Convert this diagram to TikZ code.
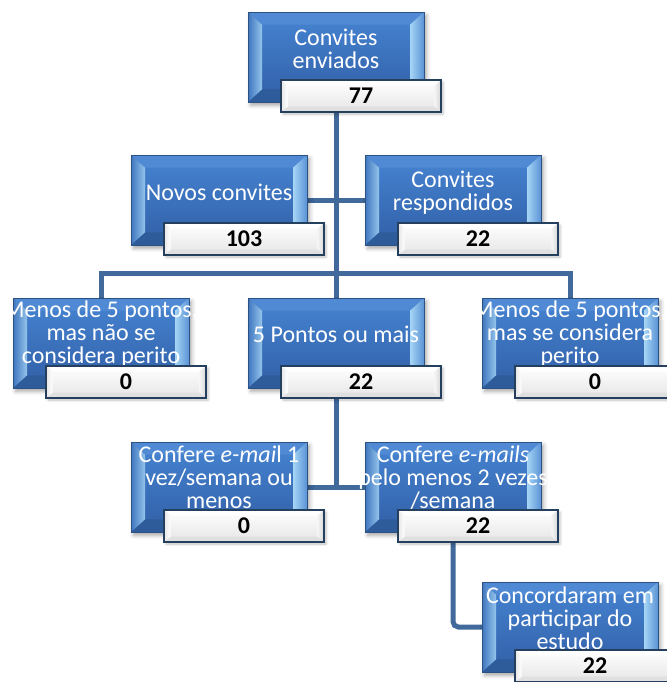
\documentclass[tikz,border=0pt]{standalone}
\usepackage{fontspec}
\setmainfont{Carlito}
\usetikzlibrary{calc,shadows.blur}

\definecolor{linkblue}{HTML}{41699C}
\definecolor{boxedge}{HTML}{2B5283}
\definecolor{facetop}{HTML}{437FCC}
\definecolor{facelow}{HTML}{3464AC}
\definecolor{beveltop}{HTML}{508AD4}
\definecolor{bevelbot}{HTML}{2E5C9A}
\definecolor{bevelleftout}{HTML}{3F75BE}
\definecolor{bevelleftin}{HTML}{94C5EC}
\definecolor{bevelrightin}{HTML}{A6D5F5}
\definecolor{bevelrightout}{HTML}{5A93D6}
\definecolor{labeledge}{HTML}{253F5E}

\pgfdeclarelayer{bg}
\pgfsetlayers{bg,main}

\newcommand{\mylines}[1]{\parbox[t]{250pt}{\centering #1}}

\tikzset{
  bluebox/.style={
    minimum width=132pt, minimum height=67.5pt, inner sep=0pt,
    draw=boxedge, line width=0.6pt, fill=facelow,
    blur shadow={shadow xshift=2pt, shadow yshift=-2.5pt,
                 shadow blur radius=3pt, shadow opacity=35},
    path picture={
      \path (path picture bounding box.north west) coordinate (pNW)
            (path picture bounding box.south east) coordinate (pSE);
      \path (pNW) ++(10.5pt,-9.5pt) coordinate (iNW);
      \path (pSE) ++(-10.5pt,9.5pt) coordinate (iSE);
      \shade[top color=facetop, bottom color=facelow] (iNW) rectangle (iSE);
      \fill[beveltop] (pNW) -- (pNW -| pSE) -- (iNW -| iSE) -- (iNW) -- cycle;
      \fill[bevelbot] (pNW |- pSE) -- (pSE) -- (iSE) -- (iNW |- iSE) -- cycle;
      \shade[left color=bevelleftout, right color=bevelleftin]
        (pNW) -- (iNW) -- (iNW |- iSE) -- (pNW |- pSE) -- cycle;
      \shade[left color=bevelrightin, right color=bevelrightout]
        (pNW -| pSE) -- (iNW -| iSE) -- (iSE) -- (pSE) -- cycle;
    }},
  labelbox/.style={
    minimum width=120pt, minimum height=24pt, inner sep=0pt,
    draw=labeledge, line width=1pt,
    top color=white, bottom color=black!10,
    blur shadow={shadow xshift=1.5pt, shadow yshift=-1.5pt,
                 shadow blur radius=2pt, shadow opacity=25},
    font=\bfseries\fontsize{18}{20}\selectfont, text=black,
    path picture={
      \path (path picture bounding box.north west) coordinate (qNW)
            (path picture bounding box.south east) coordinate (qSE);
      \path (qNW) ++(5pt,-4pt) coordinate (jNW);
      \path (qSE) ++(-5pt,4pt) coordinate (jSE);
      \shade[left color=black!4, right color=black!16]
        (qNW -| qSE) -- (jNW -| jSE) -- (jSE) -- (qSE) -- cycle;
      \fill[black!12] (qNW |- qSE) -- (qSE) -- (jSE) -- (jNW |- jSE) -- cycle;
      \fill[white] (qNW) -- (qNW -| qSE) -- (jNW -| jSE) -- (jNW) -- cycle;
      \shade[left color=black!10, right color=white]
        (qNW) -- (jNW) -- (jNW |- jSE) -- (qNW |- qSE) -- cycle;
    }},
  boxtext/.style={anchor=base, inner sep=0pt, text=white,
    font=\fontsize{18}{17.25}\selectfont},
  link/.style={draw=linkblue, line width=3.75pt},
}

\begin{document}
\begin{tikzpicture}[x=0.75pt, y=-0.75pt]
\useasboundingbox (0,0) rectangle (667,682);

% blue boxes
\node[bluebox] (b1)  at (336,57)  {};
\node[bluebox] (b2l) at (219,200) {};
\node[bluebox] (b2r) at (453,200) {};
\node[bluebox] (b3l) at (101,343) {};
\node[bluebox] (b3m) at (336,343) {};
\node[bluebox] (b3r) at (570,343) {};
\node[bluebox] (b4l) at (219,487) {};
\node[bluebox] (b4r) at (453,487) {};
\node[bluebox] (b5)  at (570,627) {};

% box captions
\node[boxtext] (t1)  at (336,45)  {\mylines{Convites\\enviados}};
\node[boxtext] (t2l) at (219,200) {\mylines{Novos convites}};
\node[boxtext] (t2r) at (453,187) {\mylines{Convites\\respondidos}};
\node[boxtext] (t3l) at (101,317) {\mylines{Menos de 5 pontos,\\mas não se\\considera perito}};
\node[boxtext] (t3m) at (336,342) {\mylines{5 Pontos ou mais}};
\node[boxtext] (t3r) at (570,317) {\mylines{Menos de 5 pontos,\\mas se considera\\perito}};
\node[boxtext] (t4l) at (219,462) {\mylines{Confere \textit{e-mai}l 1\\vez/semana ou\\menos}};
\node[boxtext] (t4r) at (453,462) {\mylines{Confere \textit{e-mails}\\pelo menos 2 vezes\\/semana}};
\node[boxtext] (t5)  at (570,603) {\mylines{Concordaram em\\participar do\\estudo}};

% count labels
\node[labelbox] (l1)  at (361,96)  {77};
\node[labelbox] (l2l) at (244,239) {103};
\node[labelbox] (l2r) at (478,239) {22};
\node[labelbox] (l3l) at (126,382) {0};
\node[labelbox] (l3m) at (361,382) {22};
\node[labelbox] (l3r) at (595,382) {0};
\node[labelbox] (l4l) at (244,526) {0};
\node[labelbox] (l4r) at (478,526) {22};
\node[labelbox] (l5)  at (595,666) {22};

% connectors behind the boxes
\coordinate (j3) at (336,273);
\begin{pgfonlayer}{bg}
  \draw[link] (b1.center) -- (b3m.center);
  \draw[link] (b2l.center) -- (b2r.center);
  \draw[link] (b3l.center) |- (j3) -| (b3r.center);
  \draw[link] (b3m.center) -- (b3m.center |- b4l.center);
  \draw[link] (b4l.center) -- (b4r.center);
  \draw[link, rounded corners=4pt] (b4r.center) |- (b5.center);
\end{pgfonlayer}
\end{tikzpicture}
\end{document}
